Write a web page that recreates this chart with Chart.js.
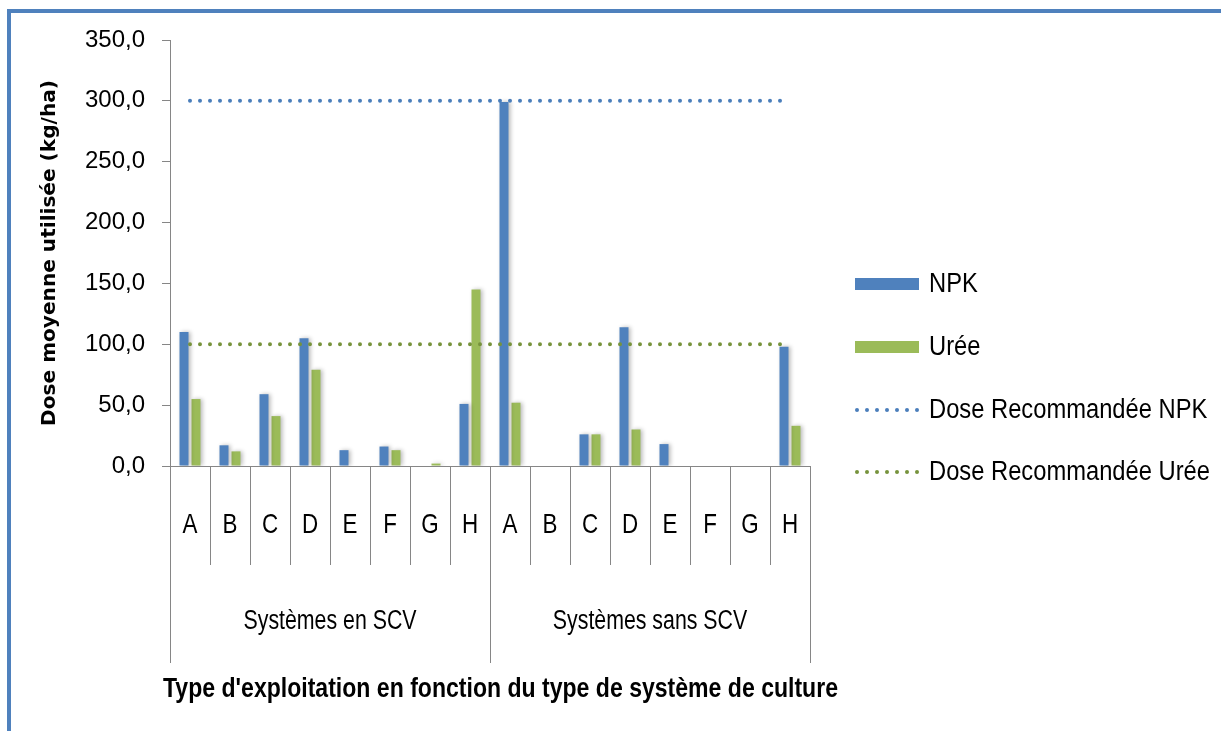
<!DOCTYPE html>
<html>
<head>
<meta charset="utf-8">
<script src="https://cdn.jsdelivr.net/npm/chart.js@4.4.1/dist/chart.umd.min.js"></script>
<style>
  html, body { margin: 0; padding: 0; background: #ffffff; }
  #wrap { width: 1221px; height: 731px; position: relative; }
</style>
</head>
<body>
<div id="wrap"><canvas id="c" width="1221" height="731"></canvas></div>
<script>
// ---- data ----
const categories = ['A','B','C','D','E','F','G','H','A','B','C','D','E','F','G','H'];
const groups = ['Systèmes en SCV', 'Systèmes sans SCV'];
const groupSize = 8;
const npk  = [110, 17, 59, 105, 13, 16, 0, 51, 299, 0, 26, 114, 18, 0, 0, 98];
const uree = [55, 12, 41, 79, 0, 13, 2, 145, 52, 0, 26, 30, 0, 0, 0, 33];
const doseNpk  = [300,300,300,300,300,300,300,300,300,300,300,300,300,300,300,300];
const doseUree = [100,100,100,100,100,100,100,100,100,100,100,100,100,100,100,100];
const yTicks = [0, 50, 100, 150, 200, 250, 300, 350];
const seriesNames = ['NPK', 'Urée', 'Dose Recommandée NPK', 'Dose Recommandée Urée'];
const xTitle = "Type d'exploitation en fonction du type de système de culture";
const yTitle = 'Dose moyenne utilisée (kg/ha)';

const BLUE = '#4F81BD';
const GREEN = '#9BBB59';
const DOT_BLUE = '#4A7EBB';
const DOT_GREEN = '#77933C';
const AXIS = '#868686';

const WIDE = "'Liberation Sans'";
const VERD = "'DejaVu Sans'";
const mctx = document.createElement('canvas').getContext('2d');
function widthOf(text, size, weight, family) {
  mctx.font = weight + ' ' + size + 'px ' + family;
  return mctx.measureText(text).width;
}
function fitSize(text, family, weight, target) {
  return 100 * target / widthOf(text, 100, weight, family);
}
// draw text horizontally condensed (Calibri-like look)
function drawCondensed(ctx, text, x, y, size, weight, sx, align) {
  ctx.save();
  ctx.font = weight + ' ' + size + 'px ' + WIDE;
  ctx.textBaseline = 'middle';
  ctx.textAlign = align;
  ctx.translate(x, y);
  ctx.scale(sx, 1);
  ctx.fillText(text, 0, 0);
  ctx.restore();
}
const LEG_SIZE = 27;
const legendSx = 281 / widthOf(seriesNames[3], LEG_SIZE, 'normal', WIDE);
const GRP_SIZE = 27;
const groupSx = 173 / widthOf(groups[0], GRP_SIZE, 'normal', WIDE);
const XT_SIZE = 27;
const xTitleSx = 675 / widthOf(xTitle, XT_SIZE, 'bold', WIDE);
const yTitleSize = fitSize(yTitle, VERD, 'bold', 346);

const shadowPlugin = {
  id: 'barShadow',
  beforeDatasetDraw(chart, args) {
    const ds = chart.data.datasets[args.index];
    if (ds.type === 'bar') {
      const ctx = chart.ctx;
      ctx.save();
      ctx.shadowColor = 'rgba(0,0,0,0.28)';
      ctx.shadowBlur = 4;
      ctx.shadowOffsetX = 2;
      ctx.shadowOffsetY = 0;
    }
  },
  afterDatasetDraw(chart, args) {
    const ds = chart.data.datasets[args.index];
    if (ds.type === 'bar') chart.ctx.restore();
  }
};

const decoPlugin = {
  id: 'deco',
  afterDraw(chart) {
    const ctx = chart.ctx;
    const xs = chart.scales.x;
    const n = categories.length;
    const half = (xs.getPixelForValue(1) - xs.getPixelForValue(0)) / 2;
    const top = xs.top;
    ctx.save();
    // separators
    ctx.strokeStyle = AXIS;
    ctx.lineWidth = 1;
    for (let k = 0; k <= n; k++) {
      const px = Math.round(xs.getPixelForValue(0) - half + 2 * half * k) + 0.5;
      const isGroup = (k % groupSize === 0);
      ctx.beginPath();
      ctx.moveTo(px, top);
      ctx.lineTo(px, top + (isGroup ? 197 : 99));
      ctx.stroke();
    }
    ctx.fillStyle = '#000';
    // category letters
    categories.forEach((c, i) => {
      drawCondensed(ctx, c, xs.getPixelForValue(i), top + 59, 28, 'normal', 0.8, 'center');
    });
    // group labels
    groups.forEach((g, gi) => {
      const a = xs.getPixelForValue(gi * groupSize);
      const b = xs.getPixelForValue(gi * groupSize + groupSize - 1);
      drawCondensed(ctx, g, (a + b) / 2, top + 156, GRP_SIZE, 'normal', groupSx, 'center');
    });
    // x title
    drawCondensed(ctx, xTitle, 163, top + 224, XT_SIZE, 'bold', xTitleSx, 'left');
    // legend
    const rows = [284, 347, 410, 472];
    ctx.fillStyle = BLUE;
    ctx.fillRect(855, rows[0] - 6, 64, 12);
    ctx.fillStyle = GREEN;
    ctx.fillRect(855, rows[1] - 6, 64, 12);
    [DOT_BLUE, DOT_GREEN].forEach((col, j) => {
      ctx.fillStyle = col;
      for (let d = 0; d < 7; d++) {
        ctx.beginPath();
        ctx.arc(857 + d * 10, rows[2 + j], 2, 0, Math.PI * 2);
        ctx.fill();
      }
    });
    ctx.fillStyle = '#000';
    seriesNames.forEach((s, i) => drawCondensed(ctx, s, 929, rows[i] + 1, LEG_SIZE, 'normal', legendSx, 'left'));
    // frame
    ctx.strokeStyle = BLUE;
    ctx.lineWidth = 4;
    ctx.strokeRect(9, 11, 1400, 1000);
    ctx.restore();
  }
};

new Chart(document.getElementById('c'), {
  data: {
    labels: categories,
    datasets: [
      { type: 'line', label: seriesNames[2], data: doseNpk, borderColor: DOT_BLUE, borderWidth: 4,
        borderDash: [0, 10], borderCapStyle: 'round', pointRadius: 0, fill: false, order: 1 },
      { type: 'line', label: seriesNames[3], data: doseUree, borderColor: DOT_GREEN, borderWidth: 4,
        borderDash: [0, 10], borderCapStyle: 'round', pointRadius: 0, fill: false, order: 1 },
      { type: 'bar', label: seriesNames[0], data: npk, backgroundColor: BLUE, borderWidth: 0,
        categoryPercentage: 0.6, barPercentage: 0.75, order: 2 },
      { type: 'bar', label: seriesNames[1], data: uree, backgroundColor: GREEN, borderWidth: 0,
        categoryPercentage: 0.6, barPercentage: 0.75, order: 2 }
    ]
  },
  options: {
    responsive: false,
    animation: false,
    events: [],
    layout: { padding: { left: 0, right: 411, top: 40, bottom: 0 } },
    plugins: { legend: { display: false }, tooltip: { enabled: false } },
    scales: {
      x: {
        type: 'category',
        grid: { display: false },
        border: { display: true, color: AXIS, width: 1 },
        ticks: { display: false },
        afterFit(scale) { scale.height = 265; }
      },
      y: {
        min: 0, max: 350,
        afterBuildTicks(scale) { scale.ticks = yTicks.map(v => ({ value: v })); },
        grid: { drawOnChartArea: false, drawTicks: true, tickLength: 8, color: AXIS },
        border: { display: true, color: AXIS, width: 1 },
        ticks: {
          padding: 17,
          color: '#000',
          font: { family: WIDE, size: 24 },
          callback: v => v.toFixed(1).replace('.', ',')
        },
        title: {
          display: true,
          text: yTitle,
          color: '#000',
          font: { family: VERD, weight: 'bold', size: yTitleSize, lineHeight: 1.2 },
          padding: { top: 50 - yTitleSize * 0.6, bottom: 0 }
        },
        afterFit(scale) { scale.width = 170; }
      }
    }
  },
  plugins: [shadowPlugin, decoPlugin]
});
</script>
</body>
</html>
